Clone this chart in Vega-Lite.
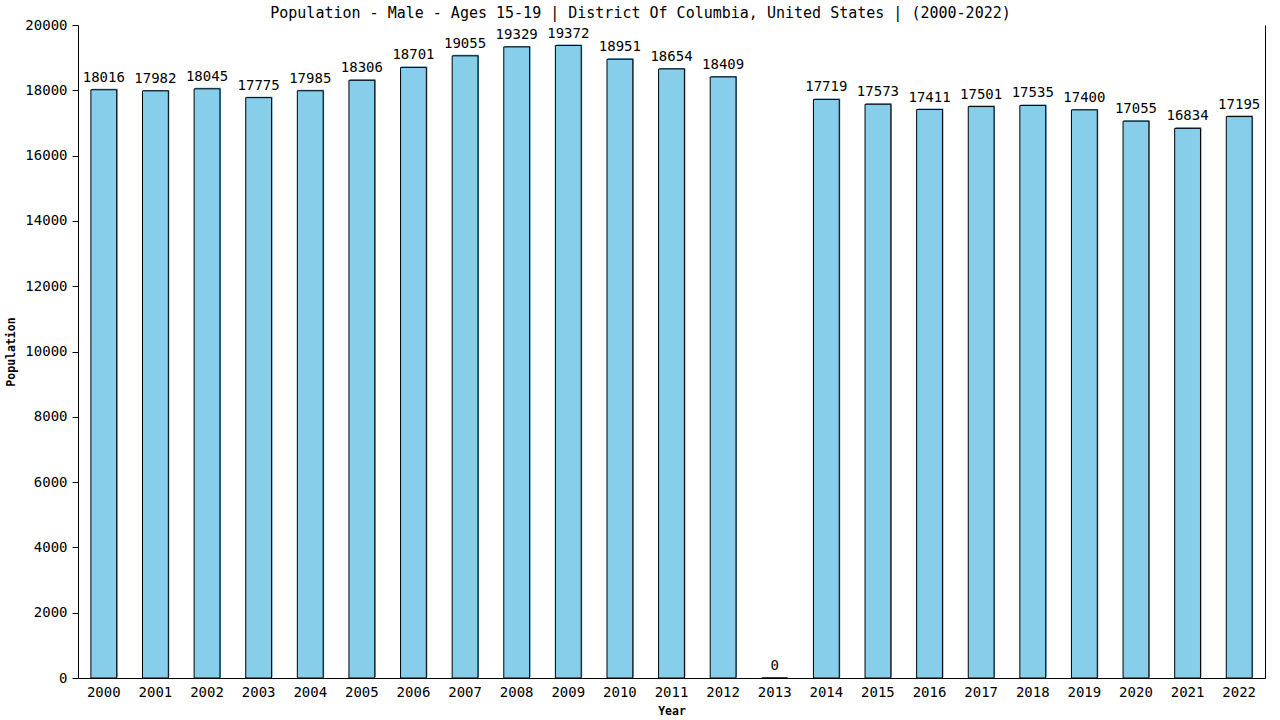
{
  "$schema": "https://vega.github.io/schema/vega-lite/v6.json",
  "width": 1187,
  "height": 653,
  "autosize": {"type": "none"},
  "padding": {"left": 78, "top": 25, "right": 15, "bottom": 42},
  "background": "white",
  "config": {
    "view": {"stroke": null},
    "font": "DejaVu Sans Mono",
    "axis": {"grid": false, "domainColor": "black", "tickColor": "black", "labelColor": "black", "titleColor": "black", "labelFont": "DejaVu Sans Mono", "labelFontSize": 14, "titleFont": "DejaVu Sans Mono", "titleFontSize": 11.5, "titleFontWeight": "bold"}
  },
  "title": {
    "text": "Population - Male - Ages 15-19 | District Of Columbia, United States |  (2000-2022)",
    "font": "DejaVu Sans Mono",
    "fontSize": 15,
    "fontWeight": "normal",
    "color": "black",
    "anchor": "middle",
    "dx": -31,
    "offset": -3
  },
  "data": {
    "values": [
      {"year": "2000", "population": 18016},
      {"year": "2001", "population": 17982},
      {"year": "2002", "population": 18045},
      {"year": "2003", "population": 17775},
      {"year": "2004", "population": 17985},
      {"year": "2005", "population": 18306},
      {"year": "2006", "population": 18701},
      {"year": "2007", "population": 19055},
      {"year": "2008", "population": 19329},
      {"year": "2009", "population": 19372},
      {"year": "2010", "population": 18951},
      {"year": "2011", "population": 18654},
      {"year": "2012", "population": 18409},
      {"year": "2013", "population": 0},
      {"year": "2014", "population": 17719},
      {"year": "2015", "population": 17573},
      {"year": "2016", "population": 17411},
      {"year": "2017", "population": 17501},
      {"year": "2018", "population": 17535},
      {"year": "2019", "population": 17400},
      {"year": "2020", "population": 17055},
      {"year": "2021", "population": 16834},
      {"year": "2022", "population": 17195}
    ]
  },
  "encoding": {
    "x": {
      "field": "year",
      "type": "ordinal",
      "scale": {"paddingInner": 0.5, "paddingOuter": 0.25},
      "axis": {"title": "Year", "labelAngle": 0, "ticks": false, "labelPadding": 7, "titlePadding": 6}
    },
    "y": {
      "field": "population",
      "type": "quantitative",
      "scale": {"domain": [0, 20000], "nice": false},
      "axis": {"title": "Population", "format": "d", "tickCount": 10, "tickSize": 6, "labelPadding": 5, "titlePadding": 8}
    }
  },
  "layer": [
    {
      "mark": {"type": "bar", "color": "#4a8fc0", "xOffset": 1, "yOffset": -1}
    },
    {
      "mark": {"type": "bar", "fill": "#87CEEB", "stroke": "black", "strokeWidth": 1},
      "encoding": {
        "y": {
          "field": "population",
          "type": "quantitative",
          "axis": {"orient": "right", "title": null, "labels": false, "ticks": false}
        }
      }
    },
    {
      "mark": {"type": "text", "baseline": "bottom", "dy": -5, "fontSize": 14, "font": "DejaVu Sans Mono", "color": "black"},
      "encoding": {
        "y": {"field": "population", "type": "quantitative", "axis": null},
        "text": {"field": "population", "type": "quantitative", "format": "d"}
      }
    }
  ],
  "resolve": {"axis": {"y": "independent"}}
}
